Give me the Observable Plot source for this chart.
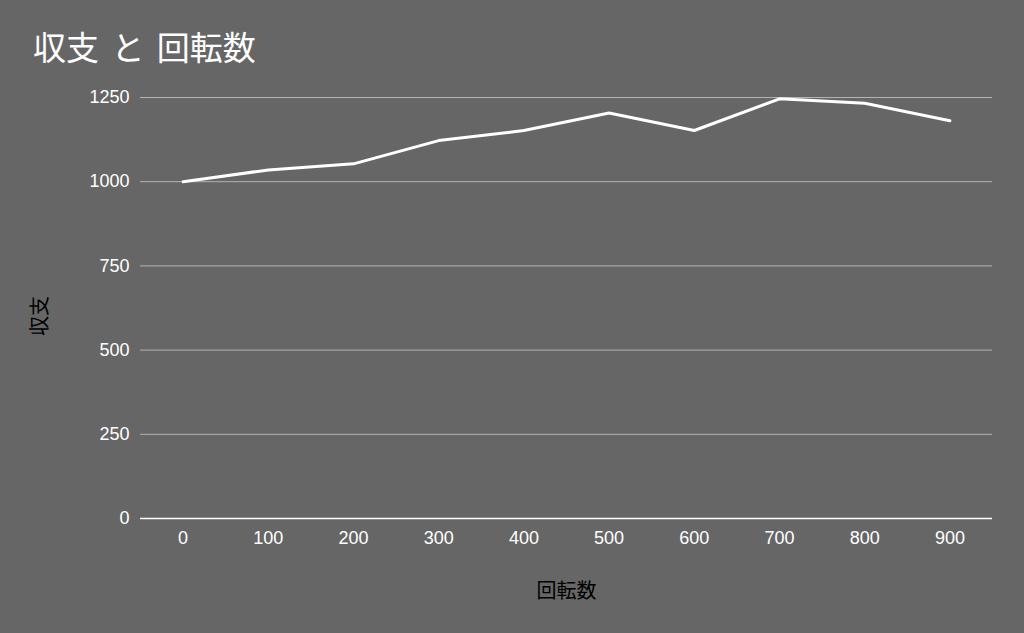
<!DOCTYPE html>
<html>
<head>
<meta charset="utf-8">
<script src="https://cdn.jsdelivr.net/npm/d3@7"></script>
<script src="https://cdn.jsdelivr.net/npm/@observablehq/plot@0.6"></script>
<style>
  html, body { margin: 0; padding: 0; background: #666666; }
  #wrap { width: 1024px; height: 633px; background: #666666; position: relative; overflow: hidden; }
  #title { position: absolute; left: 33px; top: 22px; margin: 0; color: #ffffff; white-space: pre;
    font-family: "Noto Sans CJK JP", "Noto Sans", sans-serif; font-size: 33px; font-weight: 400; line-height: 48px; word-spacing: 5px; }
  #chart { position: absolute; left: 0; top: 80px; }
</style>
</head>
<body>
<div id="wrap">
  <div id="title"></div>
  <div id="chart"></div>
</div>
<script>
const spins = ["0", "100", "200", "300", "400", "500", "600", "700", "800", "900"];
const balance = [1000, 1035, 1053, 1122, 1152, 1204, 1152, 1246, 1233, 1181];
const yTicks = [0, 250, 500, 750, 1000, 1250];
const title = "収支 と 回転数";
const xLabel = "回転数";
const yLabel = "収支";

document.getElementById("title").textContent = title;

const data = spins.map((s, i) => ({ spin: s, value: balance[i] }));

const numFont = "'Liberation Sans', Arial, sans-serif";
const cjkFont = "'Noto Sans CJK JP', sans-serif";

const chart = Plot.plot({
  width: 1024,
  height: 553,
  marginTop: 17,
  marginBottom: 115,
  marginLeft: 140,
  marginRight: 32,
  style: { background: "#666666", color: "#ffffff", fontFamily: numFont, fontSize: "18px", overflow: "visible" },
  x: { type: "point", domain: spins, padding: 0.5, round: false },
  y: { domain: [0, 1250] },
  marks: [
    Plot.gridY(yTicks, { stroke: "#b3b3b3", strokeOpacity: 1, strokeWidth: 1 }),
    Plot.ruleY([0], { stroke: "#ffffff", strokeWidth: 1.5 }),
    Plot.axisX({ tickSize: 0, tickPadding: 13, label: null, fill: "#ffffff", fontSize: 18 }),
    Plot.axisY(yTicks, { tickSize: 0, tickPadding: 11, label: null, fill: "#ffffff", fontSize: 18, tickFormat: d => String(d) }),
    Plot.line(data, { x: "spin", y: "value", stroke: "#ffffff", strokeWidth: 3, strokeLinejoin: "miter" }),
    Plot.text([xLabel], { frameAnchor: "bottom", dy: 79, text: d => d, fill: "#000000", fontSize: 20, fontFamily: cjkFont }),
    Plot.text([yLabel], { frameAnchor: "left", dx: -100, dy: 28, rotate: -90, text: d => d, fill: "#000000", fontSize: 20, fontFamily: cjkFont })
  ]
});
document.getElementById("chart").appendChild(chart);
</script>
</body>
</html>
